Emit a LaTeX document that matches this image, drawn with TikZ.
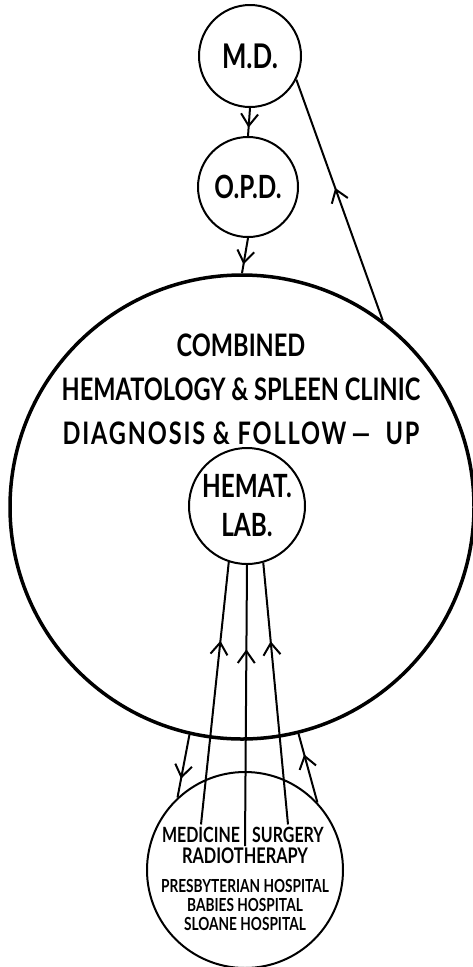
\documentclass[tikz,border=0pt]{standalone}
\usepackage{fontspec}
\setmainfont[FakeStretch=0.76]{Lato}
\usetikzlibrary{arrows.meta,decorations.markings}
\tikzset{
  unit/.style={draw, circle, line width=2pt, inner sep=0pt},
  lettering/.style={inner sep=2pt, align=center},
  link/.style={line width=2pt},
  flow/.style={decoration={markings,
      mark=at position #1 with {\arrow{Straight Barb[length=12pt,width=17pt]}}},
    postaction={decorate}},
}

\begin{document}
\begin{tikzpicture}[x=1pt,y=-1pt]
  \useasboundingbox (0,0) rectangle (473,967);

  % circles
  \node[unit, minimum size=102pt, font=\bfseries\fontsize{34}{34}\selectfont] (md) at (250,56) {M.D.};
  \node[unit, minimum size=100pt, font=\bfseries\fontsize{32}{32}\selectfont] (opd) at (248,187) {O.P.D.};
  \node[unit, minimum size=464pt, line width=3.5pt] (clinic) at (242,507) {};
  \node[unit, minimum size=116pt, align=center, font=\bfseries\fontsize{32}{39}\selectfont] (lab) at (247,506) {HEMAT.\\LAB.};
  \node[unit, minimum size=196pt] (depts) at (245,870) {};

  % texts
  \node[lettering, font=\bfseries\fontsize{31}{44}\selectfont] (clinictext) at (241,389)
    {COMBINED\\HEMATOLOGY \& SPLEEN CLINIC\\
     {\addfontfeature{LetterSpace=6}DIAGNOSIS \& FOLLOW\,---\ \ UP}};
  \node[lettering, anchor=base, font=\bfseries\fontsize{21}{21}\selectfont] (med) at (201,842) {MEDICINE};
  \node[lettering, anchor=base, font=\bfseries\fontsize{21}{21}\selectfont] (surg) at (288,842) {SURGERY};
  \node[lettering, anchor=base, font=\bfseries\fontsize{21.5}{21}\selectfont] (radio) at (245,863) {RADIOTHERAPY};
  \node[lettering, anchor=north, font=\bfseries\fontsize{18}{19}\selectfont] (hosp) at (245,877)
    {PRESBYTERIAN HOSPITAL\\BABIES HOSPITAL\\SLOANE HOSPITAL};
  \coordinate (split) at (245,846);

  % connectors
  \draw[link, flow=0.7] (md.south) -- (opd.north);
  \draw[link, flow=0.75] (opd.south) -- (clinic.north);
  \draw[link, flow=0.55] (clinic.53.8) -- (md.-27);
  \draw[link, flow=0.7] (clinic.257.4) -- (depts.133.4);
  \draw[link, flow=0.7] (depts.43) -- (clinic.284);
  \draw[link, flow=0.7] (med.north) -- (lab.-108);
  \draw[link, flow=0.7] (split) -- (lab.south);
  \draw[link, flow=0.7] (surg.north) -- (lab.-74);
\end{tikzpicture}
\end{document}
